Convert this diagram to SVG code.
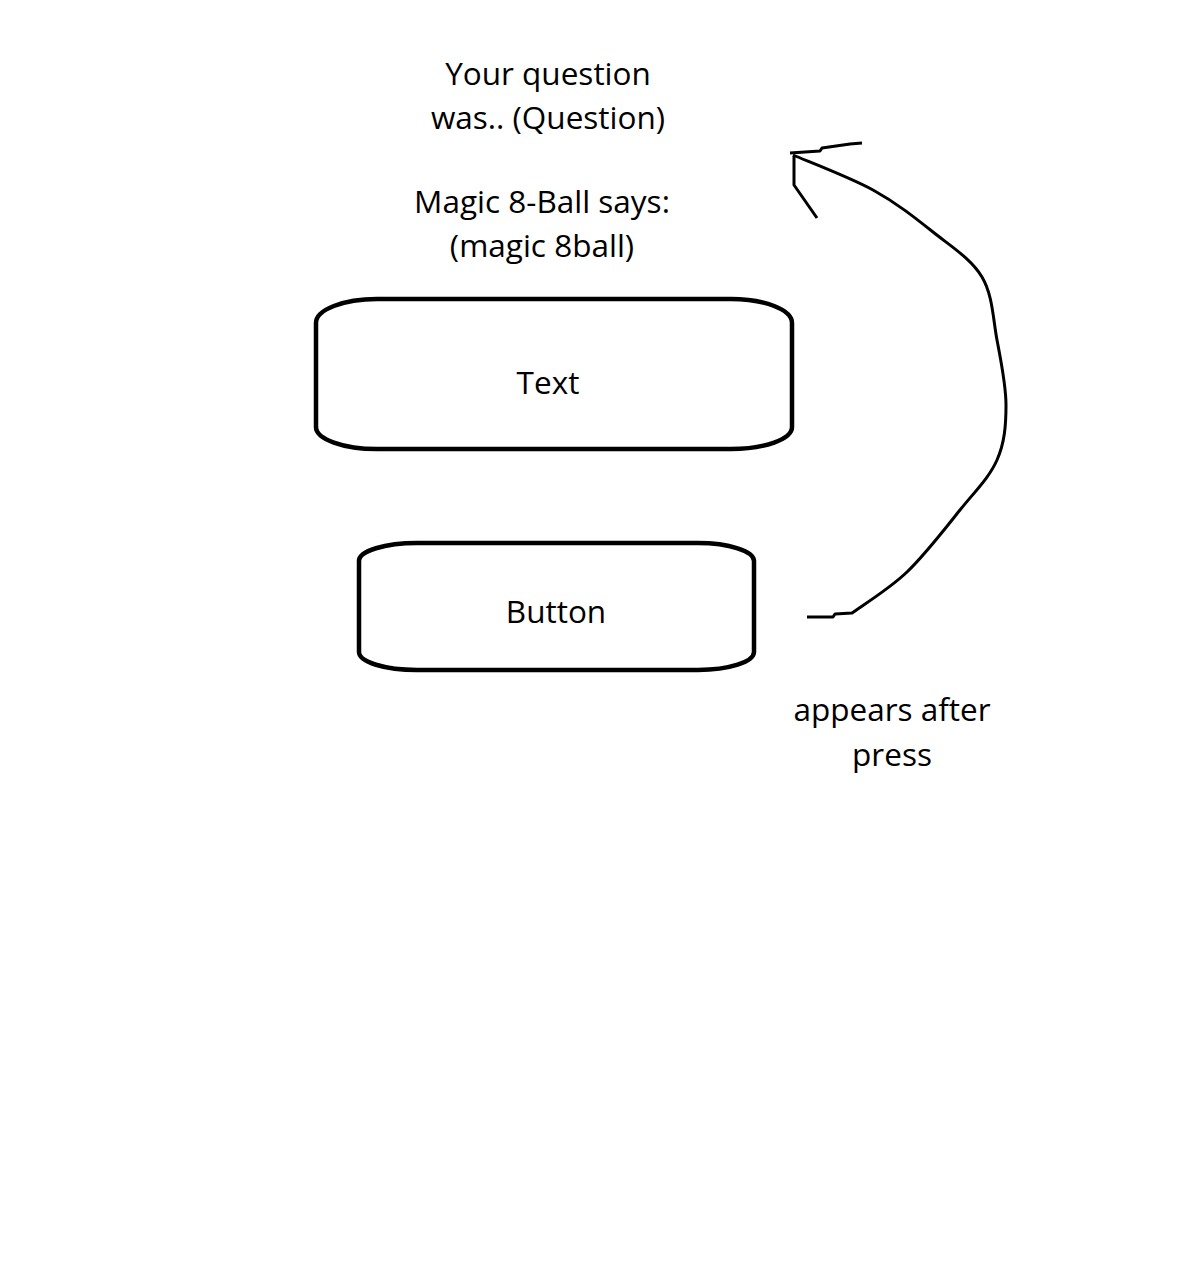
<svg xmlns="http://www.w3.org/2000/svg" width="1178" height="1280" viewBox="0 0 1178 1280">
<style>
text{font-family:"Open Sans","Liberation Sans",sans-serif;font-size:31.5px;fill:#000;text-anchor:middle}
.box{fill:#fff;stroke:#000;stroke-width:4.5}
.ink{fill:none;stroke:#000;stroke-width:3;stroke-linejoin:round;stroke-linecap:butt}
</style>
<rect width="1178" height="1280" fill="#fff"/>
<g id="label-question">
<text x="548" y="85">Your question</text>
<text x="548" y="129">was.. (Question)</text>
</g>
<g id="label-answer">
<text x="542" y="213">Magic 8-Ball says:</text>
<text x="542" y="257">(magic 8ball)</text>
</g>
<g id="node-text">
<path class="box" d="M377,299 L731,299 A61,24 0 0 1 792,323 L792,427 A61,22 0 0 1 731,449 L377,449 A61,22 0 0 1 316,427 L316,323 A61,24 0 0 1 377,299 Z"/>
<text x="548" y="394">Text</text>
</g>
<g id="node-button">
<path class="box" d="M417,543 L698,543 A56,18 0 0 1 754,561 L754,652 A56,18 0 0 1 698,670 L417,670 A58,18 0 0 1 359,652 L359,561 A58,18 0 0 1 417,543 Z"/>
<text x="556" y="623">Button</text>
</g>
<g id="connectors">
<path class="ink" d="M807,617 L833,617 L835,614 L852,613 C861.2,606.2 889,589.2 907,572 C925,554.8 945,528.7 960,510 C975,491.3 989.3,477.5 997,460 C1004.7,442.5 1006,425 1006,405 C1006,385 1001,361.3 997,340 C993,318.7 992.7,295 982,277 C971.3,259 951.2,246.5 933,232 C914.8,217.5 896.3,202.8 873,190 C849.7,177.2 806.3,160.8 793,155"/>
<path class="ink" d="M790,153 L820,151 L822,148 L850,144 L862,143"/>
<path class="ink" d="M794,156 L794,185 L817,218"/>
</g>
<g id="label-appears">
<text x="892" y="721">appears after</text>
<text x="892" y="766">press</text>
</g>
</svg>
